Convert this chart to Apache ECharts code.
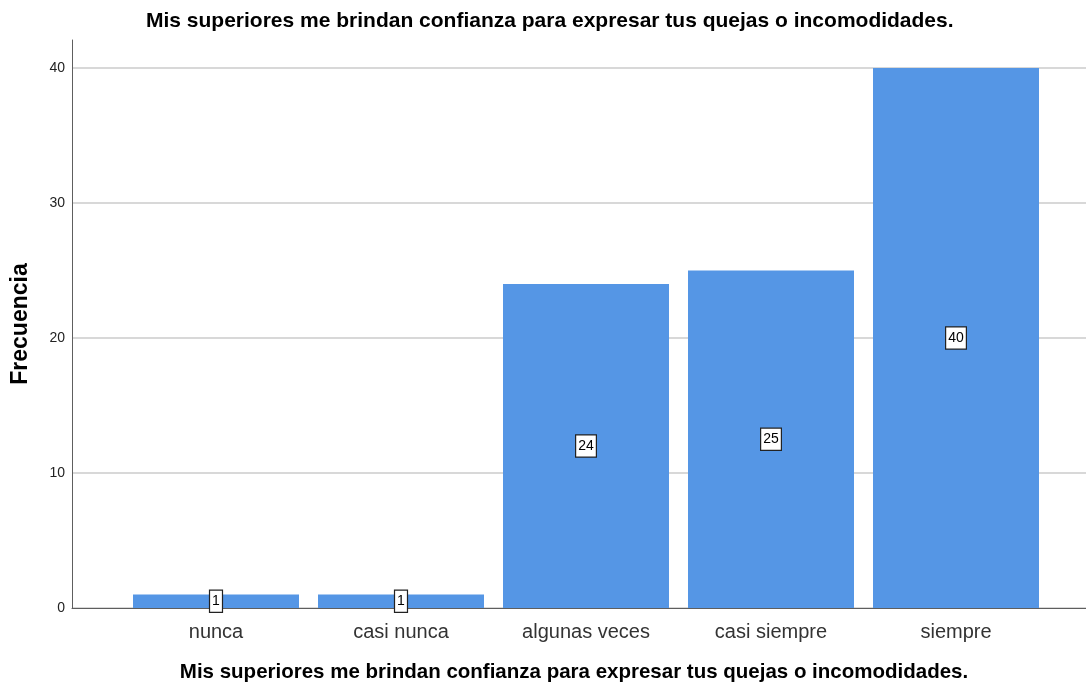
<!DOCTYPE html>
<html>
<head>
<meta charset="utf-8">
<script src="https://cdn.jsdelivr.net/npm/echarts@6/dist/echarts.min.js"></script>
<style>
  html, body { margin: 0; padding: 0; background: #fff; }
  #chart { width: 1086px; height: 691px; }
</style>
</head>
<body>
<div id="chart"></div>
<script>
// Frequency of answers per category
const categories = ['nunca', 'casi nunca', 'algunas veces', 'casi siempre', 'siempre'];
const frequencies = [1, 1, 24, 25, 40];
const yTicks = [0, 10, 20, 30, 40];

const titleText = 'Mis superiores me brindan confianza para expresar tus quejas o incomodidades.';
const yAxisTitle = 'Frecuencia';

const barColor = '#5596e5';
const gridColor = '#cbcbcb';
const axisColor = '#5e5e5e';
const FONT = '"Liberation Sans", Arial, sans-serif';

const chart = echarts.init(document.getElementById('chart'), null, { renderer: 'canvas' });

const yMax = yTicks[yTicks.length - 1];
const yStep = yTicks[1] - yTicks[0];
// the frame's vertical axis line runs a little above the top tick
const frameMax = yMax * (608 - 40) / (608 - 68);

chart.setOption({
  animation: false,
  backgroundColor: '#ffffff',
  title: [{
    text: titleText,
    left: 146,
    top: 11,
    padding: 0,
    textStyle: { fontFamily: FONT, fontWeight: 'bold', fontSize: 21, color: '#000' }
  }],
  grid: [
    // tick labels and horizontal grid lines
    { left: 72, right: 0, top: 68, bottom: 83 },
    // outer frame: vertical axis line and baseline
    { left: 72, right: 0, top: 40, bottom: 83 },
    // bars
    { left: 123.5, right: 37.5, top: 68, bottom: 83 }
  ],
  xAxis: [
    { gridIndex: 0, type: 'value', min: 0, max: 1, show: false },
    {
      gridIndex: 1, type: 'value', min: 0, max: 1,
      axisLine: { show: true, lineStyle: { color: axisColor, width: 1 } },
      axisTick: { show: false }, axisLabel: { show: false }, splitLine: { show: false },
      name: titleText, nameLocation: 'middle', nameGap: 54,
      nameTextStyle: {
        fontFamily: FONT, fontWeight: 'bold', fontSize: 20.5, color: '#000',
        padding: [0, 10, 0, 0]
      }
    },
    {
      gridIndex: 2, type: 'category', data: categories,
      axisLine: { show: false }, axisTick: { show: false },
      axisLabel: { fontFamily: FONT, fontSize: 20, color: '#333', margin: 14 }
    }
  ],
  yAxis: [
    {
      gridIndex: 0, type: 'value', min: yTicks[0], max: yMax, interval: yStep,
      axisLine: { show: false }, axisTick: { show: false },
      axisLabel: { fontFamily: FONT, fontSize: 14, color: '#222', margin: 7 },
      splitLine: { show: true, lineStyle: { color: gridColor, width: 1.6 } }
    },
    {
      gridIndex: 1, type: 'value', min: 0, max: frameMax,
      axisLine: { show: true, lineStyle: { color: axisColor, width: 1 } },
      axisTick: { show: false }, axisLabel: { show: false }, splitLine: { show: false },
      name: yAxisTitle, nameLocation: 'middle', nameGap: 40,
      nameTextStyle: { fontFamily: FONT, fontWeight: 'bold', fontSize: 23, color: '#000' }
    },
    { gridIndex: 2, type: 'value', min: 0, max: yMax, show: false }
  ],
  series: [{
    type: 'bar',
    xAxisIndex: 2,
    yAxisIndex: 2,
    data: frequencies,
    barWidth: 166,
    itemStyle: { color: barColor },
    label: {
      show: true,
      position: 'inside',
      fontFamily: FONT,
      fontSize: 14,
      color: '#000',
      backgroundColor: '#fff',
      borderColor: '#222',
      borderWidth: 1.2,
      padding: [4, 2, 3, 2]
    }
  }]
});
</script>
</body>
</html>
